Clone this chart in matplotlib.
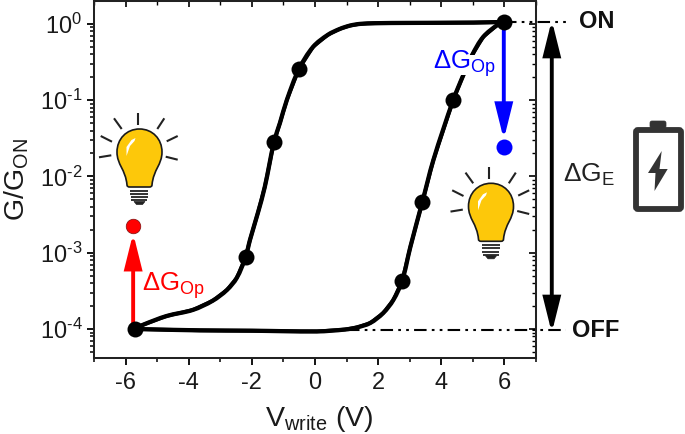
import numpy as np
import matplotlib
matplotlib.use("Agg")
import matplotlib.pyplot as plt
from matplotlib.patches import PathPatch, FancyBboxPatch, Rectangle, Polygon
from matplotlib.path import Path
from matplotlib.transforms import IdentityTransform
from matplotlib.ticker import LogLocator, NullFormatter, MultipleLocator

plt.rcParams['font.family'] = ['Liberation Sans', 'DejaVu Sans']
plt.rcParams['mathtext.fontset'] = 'custom'
plt.rcParams['mathtext.rm'] = 'Liberation Sans'
plt.rcParams['mathtext.it'] = 'Liberation Sans'
plt.rcParams['mathtext.bf'] = 'Liberation Sans:bold'
plt.rcParams['mathtext.default'] = 'rm'

v_up = [-5.71, -5.46, -4.70, -3.87, -3.24, -2.79, -2.48, -2.20, -2.06, -1.81, -1.59, -1.30, -1.11, -0.89, -0.51, -0.06, 0.41, 0.79, 1.11, 1.43, 1.90, 2.92, 5.02, 5.98]
g_up = [1e-4, 1.13e-4, 1.48e-4, 1.78e-4, 2.35e-4, 3.25e-4, 4.67e-4, 8.7e-4, 1.47e-3, 3.32e-3, 7.3e-3, 0.0281, 0.0503, 0.101, 0.255, 0.50, 0.72, 0.86, 0.95, 1.00, 1.02, 1.03, 1.04, 1.06]
v_lo = [-5.71, -3.65, -2.0, 0.06, 0.95, 1.33, 1.75, 2.16, 2.48, 2.76, 3.02, 3.40, 3.75, 4.38, 4.70, 4.98, 5.33, 5.78, 5.98]
g_lo = [1e-4, 9.6e-5, 9.5e-5, 9.3e-5, 9.85e-5, 1.05e-4, 1.2e-4, 1.62e-4, 2.4e-4, 4.27e-4, 1.19e-3, 4.63e-3, 0.0164, 0.101, 0.214, 0.392, 0.676, 0.97, 1.06]
v_pts = [-5.71, -2.20, -1.30, -0.51, 2.76, 3.40, 4.38, 5.98]
g_pts = [1e-4, 8.7e-4, 0.0281, 0.255, 4.27e-4, 4.63e-3, 0.101, 1.06]
v_red, g_red = -5.76, 2.24e-3
v_blue, g_blue = 5.98, 0.0244
g_on, g_off = 1.06, 9.6e-5
x_ticks = [-6, -4, -2, 0, 2, 4, 6]
x_labels = ['-6', '-4', '-2', '0', '2', '4', '6']
y_ticks = [1e-4, 1e-3, 1e-2, 1e-1, 1e0]
y_labels = [r'$10^{\text{-}4}$', r'$10^{\text{-}3}$', r'$10^{\text{-}2}$', r'$10^{\text{-}1}$', r'$10^{0}$']

W, H = 685, 434
fig = plt.figure(figsize=(W / 100, H / 100), dpi=100)
L, R, T, B = 94, 536, 1, 358
ax = fig.add_axes([L / W, 1 - B / H, (R - L) / W, (B - T) / H])
ax.set_yscale('log')
ax.set_xlim(-7, 7)
ax.set_ylim(10 ** -4.38, 10 ** 0.30)

def smooth_line(v, g):
    """Draw the read points through the axes scales, joined by a smooth Bezier stroke."""
    ax.plot(v, g, color='k', lw=2.6, solid_capstyle='round', solid_joinstyle='round', zorder=3)
    p = ax.transData.transform(np.column_stack([v, g]))
    t = np.gradient(p, axis=0)
    verts, codes = [p[0]], [Path.MOVETO]
    for i in range(len(p) - 1):
        d = np.linalg.norm(p[i + 1] - p[i]) / 3
        t0 = t[i] / np.linalg.norm(t[i])
        t1 = t[i + 1] / np.linalg.norm(t[i + 1])
        verts += [p[i] + t0 * d, p[i + 1] - t1 * d, p[i + 1]]
        codes += [Path.CURVE4] * 3
    ax.add_patch(PathPatch(Path(verts, codes), transform=IdentityTransform(), fc='none', ec='k',
                           lw=3.1, capstyle='round', joinstyle='round', zorder=3))

smooth_line(v_up, g_up)
smooth_line(v_lo, g_lo)
ax.plot(v_pts, g_pts, 'o', color='k', ms=11.5, mew=0, zorder=4)

# guide lines
dd = (0, (6, 2.5, 1.3, 2.5, 1.3, 2.5))
ax.plot([6, 7.95], [g_on, g_on], color='k', lw=1.5, ls=dd, clip_on=False, zorder=2)
ax.plot([1.0, 7.95], [g_off, g_off], color='k', lw=1.5, ls=dd, clip_on=False, zorder=2)

# optical arrows and dots
def arrow(x0, y0, x1, y1, c, style='-|>'):
    ax.annotate('', xy=(x1, y1), xytext=(x0, y0), clip_on=False, annotation_clip=False, zorder=3,
                arrowprops=dict(arrowstyle=f'{style},head_length=1.45,head_width=0.36', color=c, lw=2.8,
                                shrinkA=0, shrinkB=0, mutation_scale=14, joinstyle='miter'))
arrow(v_red, 1e-4, v_red, 1.8e-3, '#ff0000')
arrow(v_blue, g_on, v_blue, 0.0305, '#0000ff')
arrow(7.50, 1.12, 7.50, 8.9e-5, 'k', '<|-|>')
ax.plot([v_red], [g_red], 'o', color='#ff0000', ms=10.5, mec='#7a1010', mew=0.5, clip_on=False, zorder=4)
ax.plot([v_blue], [g_blue], 'o', color='#0000ff', ms=11.5, mew=0, clip_on=False, zorder=4)

# axes styling
ax.set_xticks(x_ticks)
ax.set_xticklabels(x_labels)
ax.xaxis.set_minor_locator(MultipleLocator(1))
ax.set_yticks(y_ticks)
ax.set_yticklabels(y_labels)
ax.yaxis.set_minor_locator(LogLocator(base=10, subs=np.arange(2, 10) / 10, numticks=12))
ax.yaxis.set_minor_formatter(NullFormatter())
ax.tick_params(which='major', direction='out', length=5.3, width=1.3, labelsize=17, pad=3, labelcolor='#1a1a1a')
ax.tick_params(axis='x', which='major', pad=5)
ax.tick_params(which='minor', direction='out', length=3, width=1.1)
ax.set_xlabel(r'$\mathrm{V_{write}}$ (V)', fontsize=20.5, labelpad=7, color='#1a1a1a', x=0.509)
ax.set_ylabel(r'$\mathrm{G/G_{ON}}$', fontsize=20.5, labelpad=6, color='#1a1a1a')

top = ax.secondary_xaxis('top')
top.set_xticks(x_ticks)
top.xaxis.set_minor_locator(MultipleLocator(1))
top.tick_params(which='major', direction='in', length=4.5, width=1.2, labeltop=False)
top.tick_params(which='minor', direction='in', length=3, width=1.0)
right = ax.secondary_yaxis('right')
right.set_yticks(y_ticks)
right.yaxis.set_minor_locator(LogLocator(base=10, subs=np.arange(2, 10) / 10, numticks=12))
right.yaxis.set_minor_formatter(NullFormatter())
right.tick_params(which='major', direction='in', length=5.3, width=1.2, labelright=False)
right.tick_params(which='minor', direction='in', length=3, width=1.0)
for a in (ax, top, right):
    for s in a.spines.values():
        s.set_linewidth(1.45)
        s.set_color('#222222')

# overlay in pixel coordinates for the drawn icons and annotations
ov = fig.add_axes([0, 0, 1, 1], facecolor='none')
ov.set_xlim(0, W)
ov.set_ylim(H, 0)
ov.axis('off')

def bulb(cx, top_y):
    verts = [(0, 0), (13, 0), (22.5, 10), (22.5, 23),
             (22.5, 36), (14, 40), (12.5, 56), (12.5, 58), (10, 58), (8, 58),
             (-10, 58), (-12.5, 58), (-12.5, 56),
             (-14, 40), (-22.5, 36), (-22.5, 23), (-22.5, 10), (-13, 0), (0, 0)]
    codes = [Path.MOVETO, Path.CURVE4, Path.CURVE4, Path.CURVE4,
             Path.CURVE4, Path.CURVE4, Path.CURVE4,
             Path.CURVE3, Path.CURVE3, Path.LINETO,
             Path.LINETO, Path.CURVE3, Path.CURVE3,
             Path.CURVE4, Path.CURVE4, Path.CURVE4, Path.CURVE4, Path.CURVE4, Path.CURVE4]
    verts = [(x + cx, y + top_y) for x, y in verts]
    ov.add_patch(PathPatch(Path(verts, codes), fc='#fdc80a', ec='#1a1a1a', lw=1.2, zorder=5))
    # highlight
    ov.add_patch(Polygon([(cx - 13, top_y + 27), (cx - 13, top_y + 18), (cx - 8, top_y + 11), (cx - 4, top_y + 9),
                          (cx - 5, top_y + 12), (cx - 9.5, top_y + 17)], fc='white', ec='none', zorder=6))
    # screw
    for i, wd in enumerate([9, 9, 8.5, 8]):
        ov.plot([cx - wd, cx + wd], [top_y + 62 + i * 3.1] * 2, color='#333333', lw=1.4, zorder=5, solid_capstyle='butt')
    ov.add_patch(Polygon([(cx - 5.5, top_y + 72.5), (cx + 5.5, top_y + 72.5), (cx + 3, top_y + 75.5), (cx - 3, top_y + 75.5)],
                         fc='#222222', ec='#222222', lw=0.5, zorder=5))
    # rays
    rays = [(-1.8, -16, -1.8, -4), (-25.5, -10.7, -17.8, 0), (24.8, -10.7, 17.8, 0), (-38.8, 7, -27.5, 12.7),
            (38.2, 7, 27.2, 12.3), (-40.5, 28.3, -28.2, 26.3), (38.2, 30.7, 26.2, 27.7)]
    for x0, y0, x1, y1 in rays:
        ov.plot([cx + x0, cx + x1], [top_y + y0, top_y + y1], color='#222222', lw=1.5, zorder=5, solid_capstyle='butt')

bulb(139.5, 129)
bulb(491, 183.3)

# battery
ov.add_patch(FancyBboxPatch((636, 130), 45, 79, boxstyle='round,pad=0,rounding_size=2', fc='white', ec='#333333', lw=4.2, zorder=5))
ov.add_patch(FancyBboxPatch((650, 121), 16, 7, boxstyle='round,pad=0,rounding_size=2', fc='#333333', ec='#333333', lw=0.5, zorder=5))
ov.add_patch(Polygon([(661.7, 151), (648, 173), (655.5, 173), (654.5, 191), (667.7, 169), (659.5, 169)], fc='#333333', ec='none', zorder=6))

# annotations
ov.add_patch(Rectangle((458, 55), 24, 20, fc='white', ec='none', zorder=4))
ov.text(596.5, 22, 'ON', fontsize=17, fontweight='bold', ha='center', va='center', color='#111111')
ov.text(596, 330.5, 'OFF', fontsize=17, fontweight='bold', ha='center', va='center', color='#111111')
ov.text(563, 182, r'$\Delta\mathrm{G_E}$', fontsize=19, ha='left', va='baseline', color='#222222')
ov.text(142, 291, r'$\Delta\mathrm{G_{Op}}$', fontsize=18.5, ha='left', va='baseline', color='#ff0000', zorder=6)
ov.text(433, 69, r'$\Delta\mathrm{G_{Op}}$', fontsize=18.5, ha='left', va='baseline', color='#0000ff', zorder=6)

fig.savefig('out.png', dpi=100)
